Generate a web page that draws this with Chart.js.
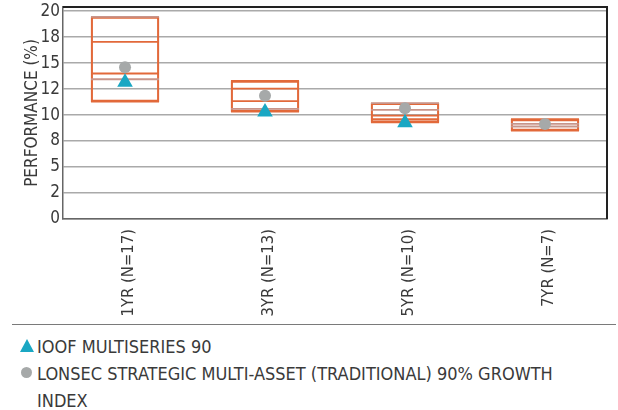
<!DOCTYPE html>
<html>
<head>
<meta charset="utf-8">
<script src="https://cdn.jsdelivr.net/npm/chart.js@4.4.1/dist/chart.umd.min.js"></script>
<style>
  html, body { margin: 0; padding: 0; background: #fff; width: 618px; height: 410px; overflow: hidden; }
  #wrap { position: absolute; left: 0; top: 0; width: 618px; height: 322px; }
  #rule { position: absolute; left: 12px; top: 324px; width: 604px; height: 0; border-top: 1.5px solid #7a7a7a; }
  .legend { position: absolute; left: 0; top: 333px; width: 618px;
            font-family: 'DejaVu Sans Condensed', 'DejaVu Sans', sans-serif;
            font-size: 18px; color: #3a3a3a; line-height: 27px; }
  .item { position: relative; padding-left: 37px; width: 556px; }
  .tri { position: absolute; left: 20px; top: 6px; width: 0; height: 0;
         border-left: 7.5px solid transparent; border-right: 7.5px solid transparent; border-bottom: 13px solid #1aa7c3; }
  .dot { position: absolute; left: 21px; top: 7px; width: 11px; height: 11px; border-radius: 50%; background: #a6a9a9; }
</style>
</head>
<body>
<div id="wrap"><canvas id="chart" width="618" height="322"></canvas></div>
<div id="rule"></div>
<div class="legend">
  <div class="item"><span class="tri"></span>IOOF MULTISERIES 90</div>
  <div class="item"><span class="dot"></span>LONSEC STRATEGIC MULTI-ASSET (TRADITIONAL) 90% GROWTH INDEX</div>
</div>
<script>
// Peer-group performance ranges by period, with the fund and its index
const categories = ['1YR (N=17)', '3YR (N=13)', '5YR (N=10)', '7YR (N=7)'];
const peerMax    = [19.45, 13.3, 11.15, 9.6];
const peerUpper  = [17.05, 12.55, 10.5, 9.15];
const peerMedian = [14.0, 11.35, 9.95, 8.9];
const peerLower  = [13.45, 10.6, 9.6, 8.55];
const peerMin    = [11.3, 10.33, 9.3, 8.5];
const ioofMultiseries90 = [13.15, 10.3, 9.25, null];
const lonsecIndex = [14.6, 11.85, 10.65, 9.15];
const yTickValues = [0, 2.5, 5, 7.5, 10, 12.5, 15, 17.5, 20];
const yTickLabels = ['0', '2', '5', '8', '10', '12', '15', '18', '20'];

const ORANGE = '#e2693a';
const BROWN = '#c8958a';
const FONT = "'DejaVu Sans Condensed', 'DejaVu Sans', sans-serif";
const TEXT = '#3a3a3a';

// line colours for each level of each range box
const levelStyles = [
  { values: peerMax,    colors: [BROWN, ORANGE, BROWN, ORANGE] },
  { values: peerUpper,  colors: [ORANGE, ORANGE, BROWN, BROWN] },
  { values: peerMedian, colors: [ORANGE, ORANGE, ORANGE, BROWN] },
  { values: peerLower,  colors: [BROWN, BROWN, ORANGE, ORANGE] },
  { values: peerMin,    colors: [ORANGE, ORANGE, ORANGE, ORANGE] }
];

const pts = arr => arr.map((v, i) => ({ x: i, y: v }));

const datasets = [
  {
    type: 'scatter', label: 'IOOF MULTISERIES 90', order: 0,
    data: pts(ioofMultiseries90),
    pointStyle: 'triangle', pointRadius: 9, pointHoverRadius: 9,
    backgroundColor: '#1aa7c3', borderColor: '#1aa7c3', borderWidth: 0
  },
  {
    type: 'scatter', label: 'LONSEC STRATEGIC MULTI-ASSET (TRADITIONAL) 90% GROWTH INDEX', order: 1,
    data: pts(lonsecIndex),
    pointStyle: 'circle', pointRadius: 6, pointHoverRadius: 6,
    backgroundColor: '#a6a9a9', borderColor: '#a6a9a9', borderWidth: 0
  }
];
levelStyles.forEach((lvl, k) => {
  datasets.push({
    type: 'scatter', label: 'level' + k, order: 2,
    data: pts(lvl.values),
    pointStyle: 'line', pointRadius: 34, pointHoverRadius: 34,
    borderColor: lvl.colors, pointBorderColor: lvl.colors,
    borderWidth: 1.8, pointBorderWidth: 1.8, pointHoverBorderWidth: 1.8
  });
});
datasets.push({
  type: 'bar', label: 'range', order: 3,
  data: categories.map((c, i) => ({ x: i, y: [peerMin[i], peerMax[i]] })),
  barThickness: 68,
  backgroundColor: 'rgba(0,0,0,0)', borderColor: ORANGE, borderWidth: 1.6, borderSkipped: false
});

// dark frame along the top and right of the plot area
const framePlugin = {
  id: 'frame',
  afterDraw(chart) {
    const { ctx, chartArea: a } = chart;
    ctx.save();
    ctx.strokeStyle = '#222';
    ctx.lineWidth = 2;
    ctx.beginPath();
    ctx.moveTo(a.left, a.top);
    ctx.lineTo(a.right, a.top);
    ctx.lineTo(a.right, a.bottom);
    ctx.stroke();
    ctx.restore();
  }
};

const noPadding = s => { s.paddingLeft = 0; s.paddingRight = 0; s.paddingTop = 0; s.paddingBottom = 0; };

new Chart(document.getElementById('chart'), {
  type: 'bar',
  data: { datasets },
  plugins: [framePlugin],
  options: {
    responsive: false,
    animation: false,
    events: [],
    layout: { autoPadding: false, padding: { top: 7, right: 11, left: 0, bottom: 0 } },
    plugins: { legend: { display: false }, tooltip: { enabled: false } },
    scales: {
      x: {
        type: 'linear',
        offset: false,
        min: -0.443, max: 3.443,
        afterBuildTicks: s => { s.ticks = categories.map((c, i) => ({ value: i })); },
        afterFit: s => { s.height = 103; noPadding(s); },
        grid: { display: false, offset: false },
        border: { color: '#666', width: 1.5 },
        ticks: {
          callback: v => categories[Math.round(v)],
          autoSkip: false, minRotation: 90, maxRotation: 90,
          padding: 2, labelOffset: 4,
          font: { family: FONT, size: 16.5 }, color: TEXT
        }
      },
      y: {
        min: 0, max: 20.4,
        afterBuildTicks: s => { s.ticks = yTickValues.map(v => ({ value: v })); },
        afterFit: s => { s.width = 63; noPadding(s); },
        grid: { color: '#aaaaaa', lineWidth: 1.5, drawTicks: false },
        border: { color: '#666', width: 1.5 },
        ticks: {
          callback: (v, i) => yTickLabels[i],
          autoSkip: false,
          padding: 3,
          font: { family: FONT, size: 17 }, color: TEXT
        },
        title: {
          display: true, text: 'PERFORMANCE (%)',
          font: { family: FONT, size: 17 }, color: TEXT,
          padding: { top: 22, bottom: 0 }
        }
      }
    }
  }
});
</script>
</body>
</html>
